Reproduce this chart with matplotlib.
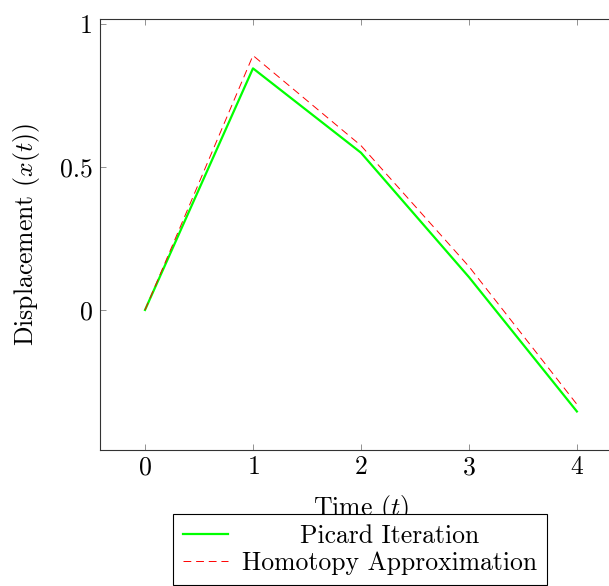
import numpy as np
import matplotlib.pyplot as plt
from matplotlib import rc

rc('font', family='cmr10', size=18.5)
rc('mathtext', fontset='cm')
rc('axes', unicode_minus=False)
rc('axes.formatter', use_mathtext=True)

# values
t = [0, 1, 2, 3, 4]
picard = [0.0, 0.845, 0.55, 0.115, -0.355]
homotopy = [0.0, 0.89, 0.575, 0.152, -0.33]

fig = plt.figure(figsize=(6.09, 5.86), dpi=100)
ax = fig.add_axes([0.1642, 0.232, 0.857, 0.7355])

ax.plot(t, picard, "-", color="#00ff00", lw=1.6, label="Picard Iteration")
ax.plot(t, homotopy, "--", color="red", lw=0.7, dashes=(8, 5), label="Homotopy Approximation")

ax.set_xlim(-0.417, 4.417)
ax.set_ylim(-0.49, 1.0175)
ax.set_xticks([0, 1, 2, 3, 4])
ax.set_yticks([0, 0.5, 1])
ax.set_yticklabels(["0", "0.5", "1"])
ax.tick_params(direction='in', top=True, right=True, length=4, width=0.6, color='#808080')
ax.tick_params(axis='x', pad=4)
ax.tick_params(axis='y', pad=5)
for s in ax.spines.values():
    s.set_linewidth(0.8)
    s.set_color('#333333')

ax.set_xlabel(r"Time $(t)$", labelpad=10)
ax.set_ylabel(r"Displacement $(x(t))$", labelpad=13)

leg = ax.legend(loc='upper center', bbox_to_anchor=(0.498, -0.148), fancybox=False,
                edgecolor='black', framealpha=1, borderpad=0.4, labelspacing=0.12,
                handlelength=1.75, handletextpad=0.55, borderaxespad=0)
leg.get_frame().set_linewidth(0.8)

# centre the legend texts like pgfplots does
fig.canvas.draw()
texts = leg.get_texts()
widths = [tx.get_window_extent().width for tx in texts]
for tx, w in zip(texts, widths):
    tx.set_x((max(widths) - w) / 2)

plt.savefig("out.png", dpi=100)
